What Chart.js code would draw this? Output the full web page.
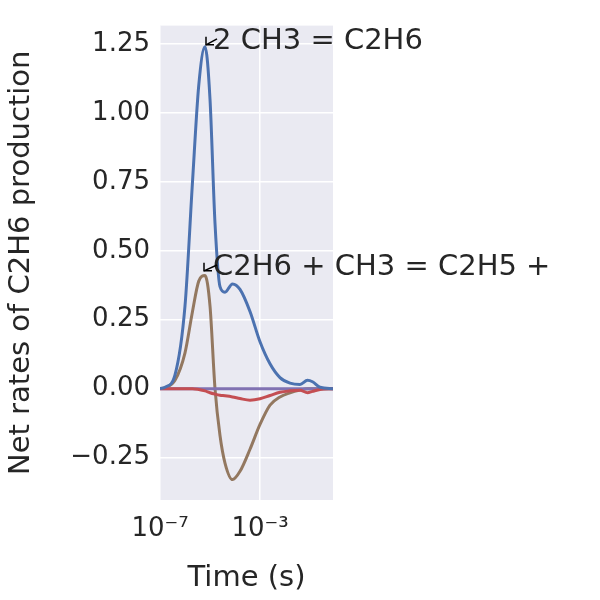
<!DOCTYPE html>
<html><head><meta charset="utf-8">
<script src="https://cdn.jsdelivr.net/npm/chart.js@4"></script>
<style>html,body{margin:0;background:#fff}#c{width:600px;height:600px}</style>
</head><body><div id="c"><canvas id="chart" width="600" height="600"></canvas></div>
<script>
// x values are log10(time in s)
const logTime = [-7, -6.8, -6.4, -6.0, -5.7, -5.45, -5.2, -5.0, -4.8, -4.6, -4.4, -4.1, -3.8, -3.4, -3.0, -2.6, -2.2, -1.8, -1.4, -1.1, -0.9, -0.6, -0.08];
const combine = [0, 0.005, 0.05, 0.3, 0.75, 1.1, 1.24, 1.05, 0.6, 0.37, 0.35, 0.38, 0.36, 0.28, 0.17, 0.09, 0.04, 0.02, 0.015, 0.03, 0.025, 0.005, 0];
const abstraction = [0, 0.003, 0.03, 0.13, 0.28, 0.39, 0.41, 0.3, 0.0, -0.17, -0.27, -0.33, -0.3, -0.22, -0.13, -0.06, -0.03, -0.015, -0.005, 0, 0, 0, 0];
const otherA = [0, 0, 0, 0, 0, -0.003, -0.008, -0.015, -0.02, -0.024, -0.026, -0.03, -0.036, -0.042, -0.037, -0.025, -0.013, -0.008, -0.006, -0.015, -0.01, -0.003, 0];
const otherB = logTime.map(() => 0);
const xTicks = [-7, -3];
const yTicks = [-0.25, 0, 0.25, 0.5, 0.75, 1.0, 1.25];

const pts = ys => logTime.map((x, i) => ({x, y: ys[i]}));
const sup = {'-':'⁻','0':'⁰','1':'¹','2':'²','3':'³','4':'⁴','5':'⁵','6':'⁶','7':'⁷','8':'⁸','9':'⁹'};
const font = "'DejaVu Sans', sans-serif";

const bgPlugin = {
  id: 'bg',
  beforeDraw(chart) {
    const {ctx, chartArea: a} = chart;
    ctx.save(); ctx.fillStyle = '#EAEAF2';
    ctx.fillRect(a.left, a.top, a.right - a.left, a.bottom - a.top); ctx.restore();
  },
  afterDraw(chart) {
    const {ctx, scales: {x, y}} = chart;
    const notes = [
      {text: '2 CH3 = C2H6', px: -5.2, py: 1.24, tx: -4.8, ty: 1.305},
      {text: 'C2H6 + CH3 = C2H5 +', px: -5.28, py: 0.42, tx: -4.8, ty: 0.485}
    ];
    ctx.save();
    ctx.font = '29px ' + font; ctx.fillStyle = '#262626'; ctx.textBaseline = 'top';
    notes.forEach(n => {
      const tx = x.getPixelForValue(n.tx), ty = y.getPixelForValue(n.ty);
      const ax = x.getPixelForValue(n.px), ay = y.getPixelForValue(n.py);
      ctx.fillText(n.text, tx - 2, ty - 2);
      ctx.strokeStyle = '#000'; ctx.lineWidth = 1.5;
      ctx.beginPath(); ctx.moveTo(tx + 2, ty + 10); ctx.lineTo(ax + 1, ay - 2); ctx.stroke();
      ctx.beginPath(); ctx.moveTo(ax + 1, ay - 10); ctx.lineTo(ax + 1, ay - 2); ctx.lineTo(ax + 9, ay - 2); ctx.stroke();
    });
    ctx.restore();
  }
};

const line = (data, color) => ({data: pts(data), borderColor: color, borderWidth: 3, pointRadius: 0, fill: false, cubicInterpolationMode: 'monotone'});

new Chart(document.getElementById('chart'), {
  type: 'line',
  data: {datasets: [line(combine, '#4C72B0'), line(otherA, '#C44E52'), line(otherB, '#8172B2'), line(abstraction, '#937860')]},
  options: {
    responsive: false, animation: false,
    layout: {padding: {top: 0, right: 267, bottom: 0, left: 0}},
    plugins: {legend: {display: false}, tooltip: {enabled: false}},
    scales: {
      x: {
        type: 'linear', min: -7, max: -0.08,
        afterBuildTicks: s => { s.ticks = xTicks.map(v => ({value: v})); },
        afterFit: s => { s.height = 100; },
        ticks: {callback: v => '10' + String(v).split('').map(c => sup[c]).join(''), font: {family: font, size: 26}, color: '#262626', padding: 14, maxRotation: 0},
        grid: {color: '#fff', lineWidth: 1.5, drawTicks: false}, border: {display: false},
        title: {display: true, text: 'Time (s)', font: {family: font, size: 29}, color: '#262626', padding: {top: 0}}
      },
      y: {
        min: -0.404, max: 1.317,
        afterBuildTicks: s => { s.ticks = yTicks.map(v => ({value: v})); },
        afterFit: s => { s.width = 160; },
        ticks: {callback: v => (v < 0 ? '−' : '') + Math.abs(v).toFixed(2), font: {family: font, size: 26}, color: '#262626', padding: 10},
        grid: {color: '#fff', lineWidth: 1.5, drawTicks: false}, border: {display: false},
        title: {display: true, text: 'Net rates of C2H6 production', font: {family: font, size: 29}, color: '#262626', padding: {bottom: 0}}
      }
    }
  },
  plugins: [bgPlugin]
});
</script></body></html>
